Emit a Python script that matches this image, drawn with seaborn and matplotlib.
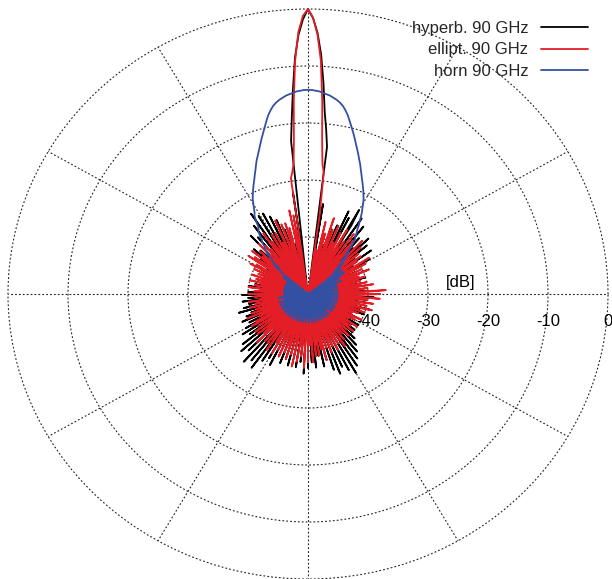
import numpy as np
import pandas as pd
import matplotlib
matplotlib.use("Agg")
import matplotlib.pyplot as plt
import matplotlib.transforms as mtrans
import seaborn as sns

# ---------------- data (plot angle in degrees, 90 deg = boresight) ----------------
angles_deg = np.arange(0, 360)

hyperb_db = [
    -41, -49, -46, -40, -50, -47, -42, -48, -49, -43,
    -49, -46, -41, -50, -48, -44, -49, -40, -47, -50,
    -42, -48, -49, -39, -50, -45, -41, -49, -47, -43,
    -50, -38, -48, -46, -41, -50, -37, -49, -47, -40,
    -48, -37, -50, -45, -36, -49, -48, -39, -50, -37,
    -47, -49, -35, -48, -41, -50, -34, -46, -49, -36,
    -33, -48, -50, -35, -47, -34, -49, -44, -37, -50,
    -46, -38, -49, -47, -41, -50, -45, -40, -48, -43,
    -49, -34, -48, -24, -21, -18, -13, -8, -4.2, -1.6,
    0, -1.8, -4.5, -8.5, -14, -19, -23, -48, -32, -49,
    -40, -49, -46, -41, -50, -47, -39, -48, -50, -38,
    -47, -49, -36, -50, -44, -35, -48, -49, -34, -46,
    -50, -34, -47, -49, -33, -50, -45, -35, -48, -50,
    -37, -46, -49, -36, -50, -47, -39, -48, -50, -38,
    -49, -45, -40, -50, -47, -41, -49, -48, -42, -50,
    -46, -41, -49, -50, -43, -47, -49, -42, -50, -46,
    -42, -49, -47, -41, -50, -48, -43, -49, -46, -41,
    -50, -47, -40, -49, -48, -42, -50, -44, -40, -49,
    -47, -39, -50, -48, -40, -49, -46, -39, -50, -47,
    -40, -49, -48, -39, -50, -45, -38, -49, -47, -40,
    -50, -39, -48, -49, -38, -50, -46, -39, -49, -47,
    -38, -50, -48, -37, -49, -45, -38, -50, -47, -36,
    -49, -48, -35, -50, -46, -36, -49, -47, -34, -50,
    -46, -35, -49, -48, -34, -50, -45, -36, -49, -47,
    -37, -50, -48, -36, -49, -46, -38, -50, -47, -37,
    -49, -48, -38, -50, -45, -37, -49, -47, -39, -50,
    -46, -37, -49, -48, -38, -50, -45, -36, -49, -47,
    -37, -50, -48, -38, -49, -46, -37, -50, -47, -39,
    -49, -48, -37, -50, -45, -38, -49, -47, -36, -50,
    -46, -35, -49, -48, -36, -50, -45, -35, -49, -47,
    -34, -50, -48, -35, -49, -46, -36, -50, -47, -37,
    -49, -48, -38, -50, -45, -39, -49, -47, -40, -50,
    -46, -40, -49, -48, -41, -50, -45, -40, -49, -47,
    -41, -50, -48, -40, -49, -46, -42, -50, -47, -40,
    -49, -48, -41, -50, -45, -39, -49, -47, -42, -50,
    -46, -40, -49, -48, -41, -50, -45, -39, -49, -47,
]

ellipt_db = [
    -38, -48, -41, -37, -49, -43, -40, -50, -44, -39,
    -48, -42, -40, -49, -45, -41, -50, -43, -40, -48,
    -41, -49, -44, -39, -50, -42, -40, -48, -45, -39,
    -49, -41, -38, -50, -44, -40, -48, -39, -46, -50,
    -39, -47, -42, -38, -49, -41, -37, -50, -44, -39,
    -48, -38, -43, -49, -37, -45, -50, -39, -41, -48,
    -37, -49, -42, -38, -50, -40, -46, -37, -49, -43,
    -38, -48, -36, -45, -50, -39, -47, -37, -49, -44,
    -42, -49, -36, -28.5, -27, -23, -16, -9, -4.5, -1.5,
    0, -1.2, -4, -9, -16, -23, -27, -28.5, -29.5, -49,
    -36, -49, -35, -47, -50, -38, -44, -37, -49, -41,
    -37, -48, -43, -36, -50, -40, -46, -38, -49, -42,
    -38, -50, -41, -39, -48, -37, -45, -50, -40, -43,
    -39, -49, -42, -38, -50, -41, -46, -39, -48, -40,
    -44, -38, -50, -42, -39, -49, -38, -46, -50, -40,
    -43, -39, -49, -45, -40, -50, -42, -41, -48, -44,
    -40, -50, -43, -41, -49, -45, -40, -48, -42, -50,
    -41, -46, -49, -40, -44, -50, -42, -41, -48, -45,
    -40, -49, -43, -41, -50, -46, -42, -48, -40, -47,
    -50, -41, -44, -49, -40, -46, -50, -41, -43, -48,
    -40, -49, -45, -39, -50, -42, -41, -48, -44, -40,
    -49, -39, -46, -50, -40, -43, -48, -39, -45, -50,
    -39, -47, -42, -40, -49, -38, -45, -50, -41, -39,
    -48, -43, -39, -50, -41, -38, -49, -44, -40, -50,
    -38, -46, -49, -39, -42, -50, -38, -44, -48, -39,
    -41, -50, -38, -45, -49, -39, -43, -50, -37, -46,
    -49, -38, -42, -50, -39, -44, -48, -37, -45, -50,
    -38, -47, -41, -49, -38, -44, -50, -39, -42, -48,
    -39, -50, -43, -40, -49, -38, -46, -50, -40, -44,
    -48, -39, -42, -50, -40, -45, -49, -39, -43, -50,
    -40, -46, -49, -41, -39, -50, -44, -40, -48, -42,
    -41, -50, -45, -40, -49, -43, -41, -50, -46, -40,
    -48, -42, -41, -50, -44, -40, -49, -45, -42, -50,
    -41, -47, -43, -40, -50, -45, -42, -49, -41, -46,
    -50, -40, -44, -49, -41, -39, -50, -43, -40, -48,
    -42, -39, -49, -45, -40, -50, -38, -44, -48, -41,
]

horn_db = [
    -46, -50, -47, -45, -50, -48, -46, -50, -47, -45,
    -50, -47, -46, -50, -48, -45, -50, -47, -46, -49,
    -45, -50, -47, -44, -50, -46, -45, -49, -47, -44,
    -50, -45, -43, -49, -46, -43, -48, -44, -46, -43,
    -44.5, -43, -44, -42, -43, -41, -41.8, -40, -40.5, -39.2,
    -38.2, -37.5, -37.2, -36.5, -36.0, -35.2, -34.6, -33.8, -33.0, -32.4,
    -31.6, -30.9, -30.3, -29.7, -29.1, -28.5, -27.9, -27.2, -26.5, -25.7,
    -25.0, -24.2, -23.4, -22.6, -21.7, -20.8, -19.9, -19.0, -18.0, -17.2,
    -16.5, -16.0, -15.6, -15.3, -15.0, -14.8, -14.6, -14.4, -14.3, -14.2,
    -14.2, -14.2, -14.3, -14.4, -14.6, -14.8, -15.0, -15.3, -15.6, -16.0,
    -16.5, -17.2, -18.0, -19.0, -20.0, -20.9, -21.8, -22.7, -23.5, -24.3,
    -25.0, -25.8, -26.6, -27.3, -28.0, -28.6, -29.2, -29.8, -30.4, -31.0,
    -31.8, -32.5, -33.2, -33.6, -34.5, -35.5, -36.0, -36.2, -37.0, -37.8,
    -38.0, -39.0, -39.2, -40.5, -40.2, -41.5, -42.0, -43.5, -42.5, -44.0,
    -44.5, -49, -45, -47, -50, -45, -48, -50, -46, -47,
    -50, -46, -48, -50, -47, -46, -50, -48, -46, -50,
    -47, -46, -50, -48, -46, -50, -47, -46, -50, -48,
    -46, -50, -47, -46, -50, -48, -46, -50, -47, -46,
    -50, -47, -46, -50, -48, -46, -50, -47, -45, -50,
    -48, -46, -50, -47, -46, -50, -48, -45, -50, -47,
    -46, -50, -48, -45, -50, -47, -46, -50, -48, -45,
    -50, -47, -45, -50, -48, -46, -50, -47, -45, -50,
    -48, -45, -50, -47, -46, -50, -48, -45, -50, -47,
    -45, -50, -48, -46, -50, -47, -45, -50, -48, -46,
    -50, -47, -45, -50, -48, -46, -50, -47, -45, -50,
    -48, -46, -50, -47, -45, -50, -48, -46, -50, -47,
    -45, -50, -48, -46, -50, -47, -45, -50, -48, -46,
    -50, -47, -45, -50, -48, -46, -50, -47, -45, -50,
    -48, -46, -50, -47, -45, -50, -48, -46, -50, -47,
    -45, -50, -48, -46, -50, -47, -45, -50, -48, -46,
    -50, -47, -45, -50, -48, -46, -50, -47, -45, -50,
    -48, -46, -50, -47, -45, -50, -48, -46, -50, -47,
    -46, -50, -48, -45, -50, -47, -46, -50, -48, -45,
    -50, -47, -46, -50, -48, -45, -50, -47, -46, -50,
    -48, -45, -50, -47, -46, -50, -48, -45, -50, -47,
    -46, -50, -48, -45, -50, -47, -46, -50, -48, -45,
]

series_names = ["hyperb. 90 GHz", "ellipt. 90 GHz", "horn 90 GHz"]
series_colors = ["#000000", "#e41e26", "#3450a2"]
r_ticks = [-40, -30, -20, -10, 0]
r_tick_labels = ["-40", "-30", "-20", "-10", "0"]

# ---------------- build long table (closed curves) ----------------
frames = []
for name, vals in zip(series_names, [hyperb_db, ellipt_db, horn_db]):
    th = np.deg2rad(np.append(angles_deg, 360))
    vv = np.append(np.asarray(vals, float), vals[0])
    frames.append(pd.DataFrame({"theta": th, "dB": vv, "series": name}))
df = pd.concat(frames, ignore_index=True)

# ---------------- figure ----------------
sns.set_theme(style="white")
plt.rcParams["font.family"] = ["Liberation Sans", "DejaVu Sans"]

W, H = 612, 579
fig = plt.figure(figsize=(W / 100, H / 100), dpi=100)
fig.patch.set_facecolor("white")
ax = fig.add_axes([8 / W, 0 / H, 600 / W, 570 / H], projection="polar")
ax.set_aspect("auto")
ax.set_facecolor("white")
ax.set_ylim(-50, 0)
ax.set_rticks(r_ticks)
ax.set_yticklabels([])
ax.set_thetagrids(np.arange(0, 360, 30), labels=[])
ax.grid(True, color="#222222", linestyle=(0, (1.6, 1.9)), linewidth=0.8)
for gl in ax.yaxis.get_gridlines() + ax.xaxis.get_gridlines():
    gl.set_clip_on(False)
ax.spines["polar"].set_visible(False)

sns.lineplot(data=df, x="theta", y="dB", hue="series", hue_order=series_names,
             palette=series_colors, sort=False, estimator=None,
             linewidth=1.3, ax=ax, legend=True)
for ln in ax.get_lines():
    ln.set_clip_on(False)
ax.set_xlabel("")
ax.set_ylabel("")

handles, labels = ax.get_legend_handles_labels()
ax.get_legend().remove()
fig.legend(handles, labels, loc="upper right",
           bbox_to_anchor=(588 / W, 1 - 21 / H), frameon=False,
           markerfirst=False, fontsize=12, handlelength=2.8,
           handletextpad=0.78, labelspacing=0.38, borderpad=0,
           borderaxespad=0)

# radial tick labels below the 0-degree axis
for r, lab in zip(r_ticks, r_tick_labels):
    tr = mtrans.offset_copy(ax.transData, fig=fig, x=0, y=-28, units="dots")
    ax.text(0, r, lab, transform=tr, ha="center", va="center",
            fontsize=12, color="black", clip_on=False)
tr = mtrans.offset_copy(ax.transData, fig=fig, x=0, y=12, units="dots")
ax.text(0, -24.5, "[dB]", transform=tr, ha="center", va="center",
        fontsize=12, color="black")

fig.savefig("out.png", dpi=100, facecolor="white")
